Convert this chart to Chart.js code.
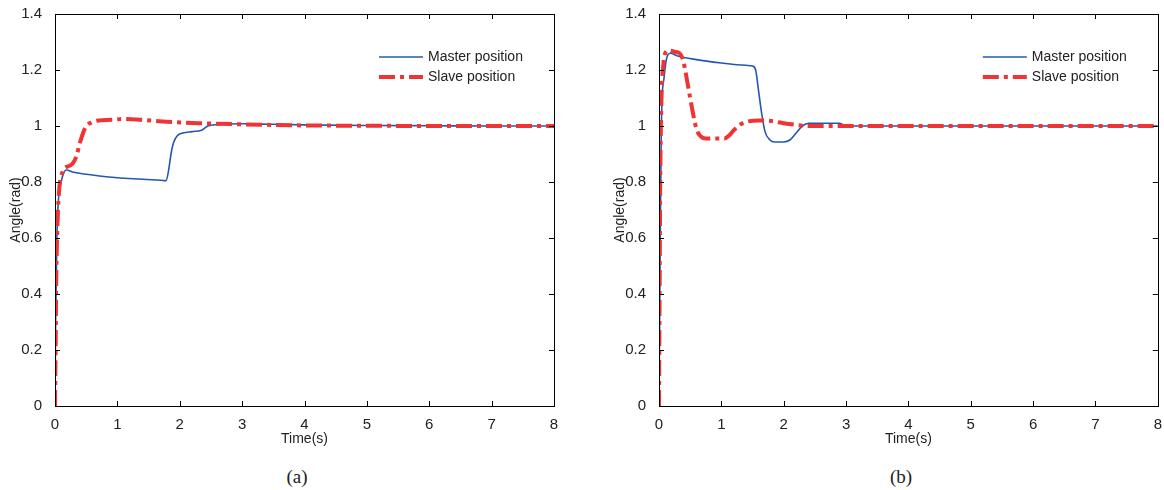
<!DOCTYPE html>
<html lang="en">
<head>
<meta charset="UTF-8">
<title>Master / slave position</title>
<script src="https://cdn.jsdelivr.net/npm/chart.js"></script>
<style>
  body { margin: 0; background: #fff; width: 1164px; height: 490px; position: relative; overflow: hidden; }
  .panel { position: absolute; top: 0; height: 460px; }
  #panelA { left: 0; width: 580px; }
  #panelB { left: 604px; width: 560px; }
  .caption { position: absolute; top: 466px; font: 19px "Liberation Serif", "Times New Roman", serif; color: #222; transform: translateX(-50%); }
</style>
</head>
<body>
<div id="panelA" class="panel"><canvas id="chartA"></canvas></div>
<div id="panelB" class="panel"><canvas id="chartB"></canvas></div>
<div class="caption" style="left:297px">(a)</div>
<div class="caption" style="left:901px">(b)</div>

<script>
// (a) master / slave angle vs time
const masterTimeA  = [0, 0.01, 0.03, 0.05, 0.08, 0.12, 0.18, 0.3, 0.6, 1.0, 1.4, 1.7, 1.78, 1.82, 1.86, 1.9, 1.96, 2.05, 2.2, 2.35, 2.45, 2.6, 3.0, 3.5, 4.0, 5, 6, 7, 8];
const masterAngleA = [0, 0.3, 0.6, 0.72, 0.78, 0.82, 0.843, 0.835, 0.825, 0.815, 0.81, 0.806, 0.805, 0.84, 0.9, 0.94, 0.965, 0.975, 0.98, 0.985, 1.0, 1.005, 1.008, 1.006, 1.004, 1.002, 1.001, 1.0, 1.0];
const slaveTimeA   = [0, 0.01, 0.02, 0.04, 0.07, 0.1, 0.15, 0.2, 0.28, 0.34, 0.4, 0.45, 0.5, 0.58, 0.7, 0.9, 1.1, 1.4, 1.8, 2.3, 3.0, 4.0, 5, 6, 7, 8];
const slaveAngleA  = [0, 0.2, 0.45, 0.65, 0.78, 0.82, 0.85, 0.855, 0.865, 0.89, 0.94, 0.975, 1.0, 1.012, 1.02, 1.022, 1.025, 1.022, 1.015, 1.01, 1.006, 1.002, 1.001, 1.0, 1.0, 1.0];

// (b)
const masterTimeB  = [0, 0.01, 0.02, 0.035, 0.05, 0.08, 0.12, 0.18, 0.3, 0.6, 1.0, 1.3, 1.5, 1.55, 1.6, 1.65, 1.7, 1.78, 1.85, 2.0, 2.1, 2.2, 2.3, 2.4, 2.6, 2.9, 3.0, 4, 5, 6, 7, 8];
const masterAngleB = [0, 0.3, 0.6, 0.95, 1.1, 1.17, 1.24, 1.26, 1.25, 1.237, 1.225, 1.218, 1.214, 1.2, 1.12, 1.04, 0.98, 0.95, 0.943, 0.943, 0.95, 0.975, 1.0, 1.01, 1.01, 1.01, 1.0, 1.0, 1.0, 1.0, 1.0, 1.0];
const slaveTimeB   = [0, 0.01, 0.02, 0.04, 0.07, 0.1, 0.15, 0.25, 0.33, 0.38, 0.42, 0.46, 0.5, 0.55, 0.6, 0.66, 0.75, 0.9, 1.05, 1.12, 1.2, 1.3, 1.4, 1.6, 1.8, 2.0, 2.2, 2.4, 3, 4, 5, 6, 7, 8];
const slaveAngleB  = [0, 0.4, 0.8, 1.1, 1.22, 1.26, 1.27, 1.265, 1.26, 1.24, 1.2, 1.15, 1.1, 1.04, 0.99, 0.965, 0.955, 0.955, 0.955, 0.965, 0.985, 1.005, 1.015, 1.02, 1.018, 1.01, 1.004, 1.0, 1.0, 1.0, 1.0, 1.0, 1.0, 1.0];

const seriesNames = ['Master position', 'Slave position'];
const xTitle = 'Time(s)';
const yTitle = 'Angle(rad)';

const BLUE = '#2458b0';
const RED = '#f03333';
const FONT = '"Liberation Sans", Arial, sans-serif';

function pairs(xs, ys) { return xs.map((x, i) => ({ x: x, y: ys[i] })); }

// box around the plot with matlab style inward ticks
const framePlugin = {
  id: 'frame',
  afterDatasetsDraw(chart) {
    const { ctx, chartArea: a, scales } = chart;
    ctx.save();
    ctx.strokeStyle = '#000';
    ctx.lineWidth = 1;
    ctx.strokeRect(Math.round(a.left) + 0.5, Math.round(a.top) + 0.5, Math.round(a.right - a.left), Math.round(a.bottom - a.top));
    ctx.beginPath();
    scales.x.ticks.forEach(t => {
      const px = Math.round(scales.x.getPixelForValue(t.value)) + 0.5;
      ctx.moveTo(px, a.bottom); ctx.lineTo(px, a.bottom - 5);
      ctx.moveTo(px, a.top); ctx.lineTo(px, a.top + 5);
    });
    scales.y.ticks.forEach(t => {
      const py = Math.round(scales.y.getPixelForValue(t.value)) + 0.5;
      ctx.moveTo(a.left, py); ctx.lineTo(a.left + 5, py);
      ctx.moveTo(a.right, py); ctx.lineTo(a.right - 5, py);
    });
    ctx.stroke();
    ctx.restore();
  }
};

// legend drawn inside the plot, top right, no box
const insideLegend = {
  id: 'insideLegend',
  afterDraw(chart) {
    const { ctx, chartArea: a } = chart;
    ctx.save();
    ctx.font = '14px ' + FONT;
    ctx.textBaseline = 'middle';
    chart.data.datasets.forEach((ds, i) => {
      const y = a.top + 43 + i * 20;
      const x0 = a.right - 175;
      ctx.strokeStyle = ds.borderColor;
      ctx.lineWidth = ds.borderWidth;
      ctx.setLineDash(ds.borderDash || []);
      ctx.beginPath();
      ctx.moveTo(x0, y); ctx.lineTo(x0 + 44, y);
      ctx.stroke();
      ctx.setLineDash([]);
      ctx.fillStyle = '#222';
      ctx.fillText(ds.label, x0 + 49, y);
    });
    ctx.restore();
  }
};

function makeChart(id, mT, mA, sT, sA, padRight) {
  return new Chart(document.getElementById(id), {
    type: 'line',
    data: {
      datasets: [{
        label: seriesNames[0],
        data: pairs(mT, mA),
        borderColor: BLUE,
        borderWidth: 1.6,
        pointRadius: 0,
        cubicInterpolationMode: 'monotone',
        order: 2
      }, {
        label: seriesNames[1],
        data: pairs(sT, sA),
        borderColor: RED,
        borderWidth: 4,
        borderDash: [16, 5, 4, 5],
        pointRadius: 0,
        cubicInterpolationMode: 'monotone',
        order: 1
      }]
    },
    options: {
      responsive: true,
      maintainAspectRatio: false,
      animation: false,
      layout: { padding: { top: 14, right: padRight, left: 0, bottom: 0 } },
      plugins: { legend: { display: false }, tooltip: { enabled: false } },
      scales: {
        x: {
          type: 'linear', min: 0, max: 8,
          grid: { display: false },
          border: { display: false },
          ticks: { stepSize: 1, padding: 2, color: '#222', font: { family: FONT, size: 15 }, maxRotation: 0 },
          title: { display: true, text: xTitle, color: '#222', font: { family: FONT, size: 14 }, padding: { top: 0, bottom: 12 } },
          afterFit(s) { s.height = 54; }
        },
        y: {
          min: 0, max: 1.4,
          grid: { display: false },
          border: { display: false },
          ticks: {
            stepSize: 0.2, padding: 5, color: '#222', font: { family: FONT, size: 15 },
            callback: v => String(Math.round(v * 10) / 10)
          },
          title: { display: true, text: yTitle, color: '#222', font: { family: FONT, size: 14 }, padding: { top: 8, bottom: 0 } },
          afterFit(s) { s.width = 55; }
        }
      }
    },
    plugins: [framePlugin, insideLegend]
  });
}

makeChart('chartA', masterTimeA, masterAngleA, slaveTimeA, slaveAngleA, 26);
makeChart('chartB', masterTimeB, masterAngleB, slaveTimeB, slaveAngleB, 6);
</script>
</body>
</html>
